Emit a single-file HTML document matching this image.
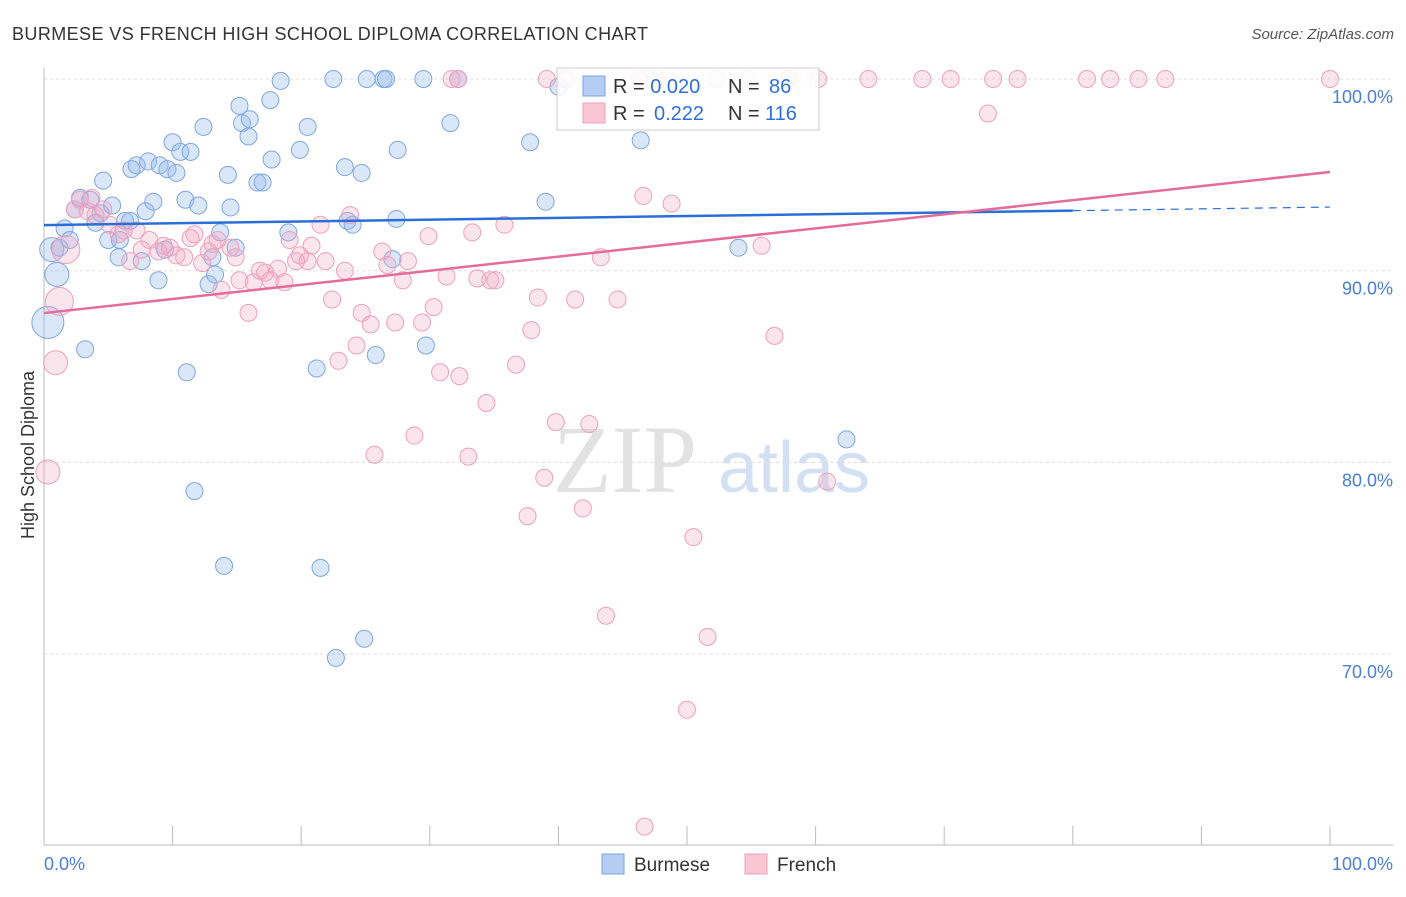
<!DOCTYPE html>
<html><head><meta charset="utf-8"><style>
body{margin:0;background:#fff;font-family:"Liberation Sans",sans-serif}
</style></head><body>
<svg id="c" width="1406" height="892" xmlns="http://www.w3.org/2000/svg" font-family="Liberation Sans, sans-serif">
<text x="12" y="40" font-size="18" fill="#333" textLength="636">BURMESE VS FRENCH HIGH SCHOOL DIPLOMA CORRELATION CHART</text>
<text x="1394" y="39" font-size="15" fill="#555" font-style="italic" text-anchor="end">Source: ZipAtlas.com</text>
<text x="34" y="455" font-size="18" fill="#333" text-anchor="middle" transform="rotate(-90 34 455)">High School Diploma</text>
<g><text x="553" y="492" font-size="96" font-family="Liberation Serif, serif" fill="#e2e2e2">ZIP</text><text x="718" y="492" font-size="72" fill="#d3e0f3">atlas</text></g>
<g id="grid"></g><g id="axes"></g><g id="pts"></g><g id="lines"></g>
<g>
<rect x="557" y="68" width="262" height="62" fill="#fff" fill-opacity="0.85" stroke="#ccc"/>
<rect x="583" y="76" width="22" height="20" fill="#b5cdf2" stroke="#7aa3e0"/>
<rect x="583" y="103" width="22" height="20" fill="#f9c6d6" stroke="#eea0bb"/>
<text x="613" y="93" font-size="20" fill="#333">R = <tspan fill="#2f6fd8">0.020</tspan><tspan x="728">N = </tspan><tspan x="769" fill="#2f6fd8">86</tspan></text>
<text x="613" y="120" font-size="20" fill="#333">R = <tspan x="654" fill="#2f6fd8">0.222</tspan><tspan x="728">N = </tspan><tspan x="765" fill="#2f6fd8">116</tspan></text>
</g>
<g>
<rect x="602" y="854" width="22" height="20" fill="#b5cdf2" stroke="#7aa3e0"/><text x="634" y="871" font-size="19" fill="#333">Burmese</text>
<rect x="745" y="854" width="22" height="20" fill="#f9c6d6" stroke="#eea0bb"/><text x="777" y="871" font-size="19" fill="#333">French</text>
</g>
</svg>
<script>
const blueX=[0.6,1.0,0.3,1.2,1.6,2.0,2.4,2.8,3.2,3.6,4.0,4.4,4.6,5.0,5.3,5.8,5.9,6.3,6.7,6.8,7.2,7.6,7.9,8.1,8.5,8.9,9.0,9.4,9.6,10.0,10.3,10.6,11.0,11.1,11.4,11.7,12.0,12.4,12.8,13.1,13.3,13.7,14.0,14.3,14.5,14.9,15.2,15.4,15.9,16.0,16.6,17.0,17.6,17.7,18.4,19.0,19.9,20.5,21.2,21.5,22.5,22.7,23.4,23.6,24.0,24.7,24.9,25.1,25.8,26.4,26.6,27.1,27.4,27.5,29.5,29.7,31.6,32.2,37.8,39.0,40.0,46.4,54.0,62.4];
const blueY=[91.1,89.8,87.3,91.2,92.2,91.6,93.2,93.8,85.9,93.7,92.5,93.0,94.7,91.6,93.4,90.7,91.6,92.6,92.6,95.3,95.5,90.5,93.1,95.7,93.6,89.5,95.5,91.1,95.3,96.7,95.1,96.2,93.7,84.7,96.2,78.5,93.4,97.5,89.3,90.7,89.8,92.0,74.6,95.0,93.3,91.2,98.6,97.7,97.0,97.9,94.6,94.6,98.9,95.8,99.9,92.0,96.3,97.5,84.9,74.5,100,69.8,95.4,92.6,92.4,95.1,70.8,100,85.6,100,100,90.6,92.7,96.3,100,86.1,97.7,100,96.7,93.6,99.6,96.8,91.2,81.2];
const blueR=[12,12,16];
const pinkX=[0.3,0.9,1.2,1.7,2.4,2.8,3.4,3.7,4.0,4.6,5.1,5.8,6.2,6.7,7.2,7.6,8.2,8.9,9.3,9.8,10.3,10.9,11.4,11.7,12.3,12.8,13.1,13.5,13.8,14.5,14.9,15.2,15.9,16.3,16.8,17.2,17.6,18.2,18.7,19.1,19.6,19.9,20.5,20.8,21.5,21.9,22.4,22.9,23.4,23.8,24.3,24.7,25.4,25.7,26.3,26.7,27.3,27.9,28.3,28.8,29.4,29.9,30.3,30.8,31.3,31.7,32.2,32.3,33.0,33.3,33.7,34.4,34.7,35.1,35.8,36.7,37.6,37.9,38.4,38.9,39.1,39.8,40.6,41.3,41.9,42.4,43.3,43.7,44.6,46.3,46.6,47.6,48.8,50.0,50.5,51.6,52.3,54.7,55.8,56.8,57.9,60.9,60.2,64.1,68.3,70.5,73.4,73.8,75.7,81.1,82.9,85.1,87.2,100,46.7];
const pinkY=[79.5,85.2,88.4,91.1,93.2,93.7,93.1,93.8,92.9,93.2,92.4,91.9,92.1,90.5,92.1,91.1,91.6,91.0,91.3,91.2,90.8,90.7,91.7,91.9,90.4,91.0,91.4,91.6,89.0,91.2,90.7,89.5,87.8,89.4,90.0,89.9,89.5,90.1,89.4,91.6,90.5,90.8,90.5,91.3,92.4,90.5,88.5,85.3,90.0,92.9,86.1,87.8,87.2,80.4,91.0,90.3,87.3,89.5,90.5,81.4,87.3,91.8,88.1,84.7,89.7,100,100,84.5,80.3,92.0,89.6,83.1,89.5,89.5,92.4,85.1,77.2,86.9,88.6,79.2,100,82.1,100,88.5,77.6,82.0,90.7,72.0,88.5,100,93.9,100,93.5,67.1,76.1,70.9,100,100,91.3,86.6,100,79.0,100,100,100,100,98.2,100,100,100,100,100,100,100,61.0];
const pinkR=[12,12,14,14];
const yTicks=[100,90,80,70];
const blueTrend=[92.38,93.32];
const pinkTrend=[87.79,95.15];
const NS="http://www.w3.org/2000/svg";
const X=v=>44+v*12.86, Y=v=>79+(100-v)*19.17;
function mk(t,a,p){const e=document.createElementNS(NS,t);for(const k in a)e.setAttribute(k,a[k]);p.appendChild(e);return e;}
const grid=document.getElementById('grid'),axes=document.getElementById('axes'),pts=document.getElementById('pts'),lines=document.getElementById('lines');
yTicks.forEach(t=>{const g=mk('line',{x1:44,x2:1393,y1:Y(t),y2:Y(t),stroke:'#ddd','stroke-dasharray':'3,3'},grid);


const l=mk('text',{x:1393,y:Y(t)+24,'font-size':18,fill:'#4a7fd4','text-anchor':'end'},axes);l.textContent=t.toFixed(1)+'%';

});
const xa=mk('line',{x1:44,x2:1393,y1:845,y2:845,stroke:'#bbb'},axes);


const ya=mk('line',{x1:44,x2:44,y1:68,y2:845,stroke:'#bbb'},axes);


for(let i=1;i<=10;i++){const t=mk('line',{x1:X(i*10),x2:X(i*10),y1:826,y2:845,stroke:'#bbb'},axes);

}
[['0.0%',44,'start'],['100.0%',1393,'end']].forEach(a=>{const l=mk('text',{x:a[1],y:870,'font-size':18,fill:'#4a7fd4','text-anchor':a[2]},axes);l.textContent=a[0];

});
function series(xs,ys,rs,fill,stroke,name){xs.forEach((x,i)=>{const c=mk('circle',{cx:X(x),cy:Y(ys[i]),r:rs[i]||8.5,fill:fill,stroke:stroke,'stroke-width':1},pts);

});}
series(blueX,blueY,blueR,'rgba(150,185,238,0.35)','#7ea6e2','burmese-point');
series(pinkX,pinkY,pinkR,'rgba(243,168,196,0.3)','#eea0bb','french-point');
const b1=mk('line',{x1:X(0),y1:Y(blueTrend[0]),x2:X(80),y2:Y(blueTrend[0]+(blueTrend[1]-blueTrend[0])*0.8),stroke:'#2a6fd6','stroke-width':2.5},lines);


const b2=mk('line',{x1:X(80),y1:Y(blueTrend[0]+(blueTrend[1]-blueTrend[0])*0.8),x2:X(100),y2:Y(blueTrend[1]),stroke:'#2a6fd6','stroke-width':1.2,'stroke-dasharray':'8,6'},lines);


const p1=mk('line',{x1:X(0),y1:Y(pinkTrend[0]),x2:X(100),y2:Y(pinkTrend[1]),stroke:'#e46c9a','stroke-width':2.5},lines);


</script>
</body></html>
